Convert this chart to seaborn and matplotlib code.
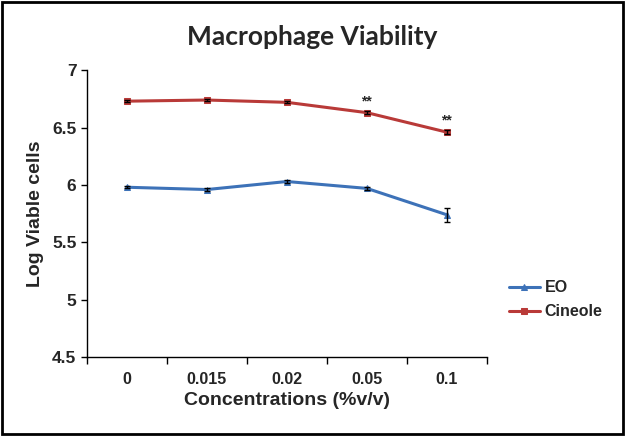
import matplotlib
matplotlib.use("Agg")
import matplotlib.pyplot as plt
import seaborn as sns
import pandas as pd
from matplotlib.patches import Rectangle
from matplotlib.ticker import FixedLocator, NullFormatter

concentrations = ['0', '0.015', '0.02', '0.05', '0.1']
eo_values = [5.98, 5.96, 6.03, 5.97, 5.74]
eo_err = [0.01, 0.01, 0.01, 0.01, 0.06]
cineole_values = [6.73, 6.74, 6.72, 6.63, 6.46]
cineole_err = [0.01, 0.01, 0.01, 0.015, 0.015]
significance = ['', '', '', '**', '**']

sns.set_theme(style='white')
plt.rcParams['font.family'] = ['Liberation Sans', 'DejaVu Sans']

df = pd.DataFrame({
    'Concentration': concentrations * 2,
    'Value': eo_values + cineole_values,
    'Series': ['EO'] * 5 + ['Cineole'] * 5,
})
df['pos'] = df['Concentration'].map({c: i for i, c in enumerate(concentrations)})

colors = {'EO': '#3d72b8', 'Cineole': '#b93a38'}

fig = plt.figure(figsize=(6.25, 4.36), dpi=100)
ax = fig.add_axes([0.139, 0.181, 0.64, 0.658])

sns.lineplot(data=df, x='pos', y='Value', hue='Series', style='Series',
             markers={'EO': '^', 'Cineole': 's'}, dashes=False,
             palette=colors, linewidth=2.2, markersize=5, ax=ax)
for line in ax.lines:
    line.set_markeredgecolor(line.get_color())

x = list(range(len(concentrations)))
ax.errorbar(x, eo_values, yerr=eo_err, fmt='none', ecolor='black',
            elinewidth=1, capsize=2.5, zorder=5)
ax.errorbar(x, cineole_values, yerr=cineole_err, fmt='none', ecolor='black',
            elinewidth=1, capsize=2.5, zorder=5)

for xi, yi, s in zip(x, cineole_values, significance):
    if s:
        ax.text(xi, yi + 0.04, s, ha='center', va='bottom', fontsize=10,
                fontweight='bold')

ax.set_xlim(-0.5, 4.5)
ax.set_ylim(4.5, 7)
ax.set_yticks([4.5, 5, 5.5, 6, 6.5, 7])
ax.set_yticklabels(['4.5', '5', '5.5', '6', '6.5', '7'])
ax.set_xticks(x)
ax.set_xticklabels(concentrations)
ax.xaxis.set_minor_locator(FixedLocator([-0.5, 0.5, 1.5, 2.5, 3.5, 4.5]))
ax.xaxis.set_minor_formatter(NullFormatter())
ax.tick_params(axis='x', which='major', length=0, labelsize=11.5, pad=11)
ax.tick_params(axis='x', which='minor', length=5, width=1, color='black',
               direction='out', bottom=True)
ax.tick_params(axis='y', length=4, width=1, color='black', direction='out',
               left=True, labelsize=12.5)
for lab in ax.get_xticklabels() + ax.get_yticklabels():
    lab.set_fontweight('bold')

ax.spines['top'].set_visible(False)
ax.spines['right'].set_visible(False)
for sp in ['left', 'bottom']:
    ax.spines[sp].set_color('black')
    ax.spines[sp].set_linewidth(1)

ax.set_xlabel('Concentrations (%v/v)', fontsize=14, fontweight='bold', labelpad=3)
ax.set_ylabel('Log Viable cells', fontsize=14, fontweight='bold', labelpad=6)
fig.text(0.5, 0.915, 'Macrophage Viability', ha='center', va='center',
         fontsize=19, fontweight='bold', family=['Lato', 'DejaVu Sans'])

handles, labels = ax.get_legend_handles_labels()
ax.legend(handles, labels, loc='center left', bbox_to_anchor=(1.02, 0.2),
          frameon=False, prop={'weight': 'bold', 'size': 11.5},
          handlelength=1.9, handletextpad=0.3, labelspacing=0.55)

fig.patches.append(Rectangle((0.003, 0.004), 0.994, 0.992, transform=fig.transFigure,
                             fill=False, edgecolor='black', linewidth=2))

fig.savefig('out.png', dpi=100)
